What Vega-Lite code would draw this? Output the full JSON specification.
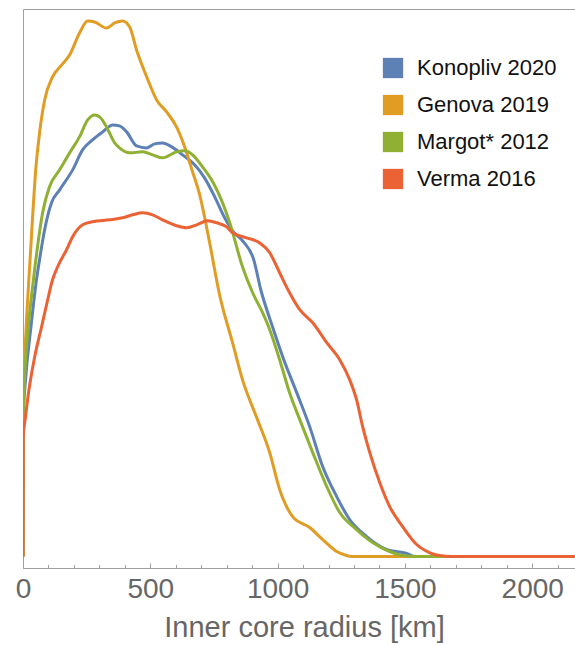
{
  "$schema": "https://vega.github.io/schema/vega-lite/v6.json",
  "width": 552,
  "height": 559,
  "autosize": {"type": "none"},
  "padding": {"left": 23, "top": 9, "right": 0, "bottom": 78},
  "background": "white",
  "config": {
    "view": {"stroke": "#a0a0a0", "strokeWidth": 1},
    "font": "Liberation Sans"
  },
  "data": {
    "values": [
      {"s": "Konopliv 2020", "x": 0, "y": 0}, {"s": "Konopliv 2020", "x": 1, "y": 140}, {"s": "Konopliv 2020", "x": 10, "y": 177}, {"s": "Konopliv 2020", "x": 30, "y": 227}, {"s": "Konopliv 2020", "x": 53, "y": 277}, {"s": "Konopliv 2020", "x": 65, "y": 297}, {"s": "Konopliv 2020", "x": 85, "y": 327}, {"s": "Konopliv 2020", "x": 112, "y": 354}, {"s": "Konopliv 2020", "x": 144, "y": 367}, {"s": "Konopliv 2020", "x": 195, "y": 387}, {"s": "Konopliv 2020", "x": 234, "y": 407}, {"s": "Konopliv 2020", "x": 273, "y": 417}, {"s": "Konopliv 2020", "x": 313, "y": 425}, {"s": "Konopliv 2020", "x": 352, "y": 432}, {"s": "Konopliv 2020", "x": 379, "y": 431}, {"s": "Konopliv 2020", "x": 407, "y": 425}, {"s": "Konopliv 2020", "x": 446, "y": 411}, {"s": "Konopliv 2020", "x": 486, "y": 409}, {"s": "Konopliv 2020", "x": 517, "y": 413}, {"s": "Konopliv 2020", "x": 548, "y": 414}, {"s": "Konopliv 2020", "x": 584, "y": 410}, {"s": "Konopliv 2020", "x": 627, "y": 402}, {"s": "Konopliv 2020", "x": 674, "y": 392}, {"s": "Konopliv 2020", "x": 713, "y": 379}, {"s": "Konopliv 2020", "x": 753, "y": 360}, {"s": "Konopliv 2020", "x": 792, "y": 339}, {"s": "Konopliv 2020", "x": 823, "y": 326}, {"s": "Konopliv 2020", "x": 866, "y": 315}, {"s": "Konopliv 2020", "x": 905, "y": 298}, {"s": "Konopliv 2020", "x": 935, "y": 266}, {"s": "Konopliv 2020", "x": 980, "y": 230}, {"s": "Konopliv 2020", "x": 1020, "y": 200}, {"s": "Konopliv 2020", "x": 1075, "y": 164}, {"s": "Konopliv 2020", "x": 1126, "y": 130}, {"s": "Konopliv 2020", "x": 1177, "y": 90}, {"s": "Konopliv 2020", "x": 1232, "y": 60}, {"s": "Konopliv 2020", "x": 1283, "y": 37}, {"s": "Konopliv 2020", "x": 1350, "y": 20}, {"s": "Konopliv 2020", "x": 1428, "y": 7}, {"s": "Konopliv 2020", "x": 1507, "y": 3}, {"s": "Konopliv 2020", "x": 1540, "y": 0}, {"s": "Konopliv 2020", "x": 2168, "y": 0},
      {"s": "Genova 2019", "x": 0, "y": 0}, {"s": "Genova 2019", "x": 1, "y": 140}, {"s": "Genova 2019", "x": 4, "y": 177}, {"s": "Genova 2019", "x": 12, "y": 227}, {"s": "Genova 2019", "x": 23, "y": 277}, {"s": "Genova 2019", "x": 37, "y": 337}, {"s": "Genova 2019", "x": 50, "y": 387}, {"s": "Genova 2019", "x": 65, "y": 424}, {"s": "Genova 2019", "x": 85, "y": 457}, {"s": "Genova 2019", "x": 116, "y": 480}, {"s": "Genova 2019", "x": 152, "y": 492}, {"s": "Genova 2019", "x": 183, "y": 502}, {"s": "Genova 2019", "x": 222, "y": 524}, {"s": "Genova 2019", "x": 254, "y": 536}, {"s": "Genova 2019", "x": 281, "y": 535}, {"s": "Genova 2019", "x": 328, "y": 529}, {"s": "Genova 2019", "x": 360, "y": 534}, {"s": "Genova 2019", "x": 391, "y": 536}, {"s": "Genova 2019", "x": 419, "y": 530}, {"s": "Genova 2019", "x": 446, "y": 507}, {"s": "Genova 2019", "x": 486, "y": 480}, {"s": "Genova 2019", "x": 525, "y": 457}, {"s": "Genova 2019", "x": 564, "y": 445}, {"s": "Genova 2019", "x": 603, "y": 430}, {"s": "Genova 2019", "x": 635, "y": 410}, {"s": "Genova 2019", "x": 666, "y": 385}, {"s": "Genova 2019", "x": 694, "y": 362}, {"s": "Genova 2019", "x": 733, "y": 314}, {"s": "Genova 2019", "x": 772, "y": 262}, {"s": "Genova 2019", "x": 823, "y": 214}, {"s": "Genova 2019", "x": 862, "y": 177}, {"s": "Genova 2019", "x": 921, "y": 137}, {"s": "Genova 2019", "x": 969, "y": 104}, {"s": "Genova 2019", "x": 1008, "y": 67}, {"s": "Genova 2019", "x": 1059, "y": 40}, {"s": "Genova 2019", "x": 1126, "y": 29}, {"s": "Genova 2019", "x": 1177, "y": 17}, {"s": "Genova 2019", "x": 1232, "y": 5}, {"s": "Genova 2019", "x": 1271, "y": 1}, {"s": "Genova 2019", "x": 1290, "y": 0}, {"s": "Genova 2019", "x": 2168, "y": 0},
      {"s": "Margot* 2012", "x": 0, "y": 0}, {"s": "Margot* 2012", "x": 1, "y": 140}, {"s": "Margot* 2012", "x": 6, "y": 177}, {"s": "Margot* 2012", "x": 20, "y": 227}, {"s": "Margot* 2012", "x": 41, "y": 277}, {"s": "Margot* 2012", "x": 57, "y": 310}, {"s": "Margot* 2012", "x": 77, "y": 344}, {"s": "Margot* 2012", "x": 104, "y": 370}, {"s": "Margot* 2012", "x": 144, "y": 387}, {"s": "Margot* 2012", "x": 183, "y": 404}, {"s": "Margot* 2012", "x": 222, "y": 420}, {"s": "Margot* 2012", "x": 254, "y": 437}, {"s": "Margot* 2012", "x": 281, "y": 442}, {"s": "Margot* 2012", "x": 301, "y": 440}, {"s": "Margot* 2012", "x": 328, "y": 430}, {"s": "Margot* 2012", "x": 360, "y": 414}, {"s": "Margot* 2012", "x": 379, "y": 409}, {"s": "Margot* 2012", "x": 419, "y": 404}, {"s": "Margot* 2012", "x": 470, "y": 405}, {"s": "Margot* 2012", "x": 509, "y": 402}, {"s": "Margot* 2012", "x": 548, "y": 399}, {"s": "Margot* 2012", "x": 603, "y": 405}, {"s": "Margot* 2012", "x": 635, "y": 406}, {"s": "Margot* 2012", "x": 666, "y": 402}, {"s": "Margot* 2012", "x": 705, "y": 390}, {"s": "Margot* 2012", "x": 745, "y": 375}, {"s": "Margot* 2012", "x": 784, "y": 354}, {"s": "Margot* 2012", "x": 812, "y": 334}, {"s": "Margot* 2012", "x": 862, "y": 290}, {"s": "Margot* 2012", "x": 902, "y": 264}, {"s": "Margot* 2012", "x": 941, "y": 244}, {"s": "Margot* 2012", "x": 969, "y": 227}, {"s": "Margot* 2012", "x": 1008, "y": 197}, {"s": "Margot* 2012", "x": 1047, "y": 164}, {"s": "Margot* 2012", "x": 1087, "y": 137}, {"s": "Margot* 2012", "x": 1138, "y": 104}, {"s": "Margot* 2012", "x": 1193, "y": 70}, {"s": "Margot* 2012", "x": 1244, "y": 44}, {"s": "Margot* 2012", "x": 1310, "y": 27}, {"s": "Margot* 2012", "x": 1373, "y": 14}, {"s": "Margot* 2012", "x": 1440, "y": 5}, {"s": "Margot* 2012", "x": 1491, "y": 1}, {"s": "Margot* 2012", "x": 1546, "y": 0}, {"s": "Margot* 2012", "x": 2168, "y": 0},
      {"s": "Verma 2016", "x": 0, "y": 0}, {"s": "Verma 2016", "x": 1, "y": 120}, {"s": "Verma 2016", "x": 10, "y": 140}, {"s": "Verma 2016", "x": 18, "y": 157}, {"s": "Verma 2016", "x": 46, "y": 200}, {"s": "Verma 2016", "x": 73, "y": 230}, {"s": "Verma 2016", "x": 97, "y": 257}, {"s": "Verma 2016", "x": 116, "y": 277}, {"s": "Verma 2016", "x": 136, "y": 290}, {"s": "Verma 2016", "x": 171, "y": 307}, {"s": "Verma 2016", "x": 195, "y": 320}, {"s": "Verma 2016", "x": 234, "y": 332}, {"s": "Verma 2016", "x": 273, "y": 335}, {"s": "Verma 2016", "x": 340, "y": 337}, {"s": "Verma 2016", "x": 391, "y": 339}, {"s": "Verma 2016", "x": 431, "y": 342}, {"s": "Verma 2016", "x": 470, "y": 344}, {"s": "Verma 2016", "x": 509, "y": 342}, {"s": "Verma 2016", "x": 548, "y": 337}, {"s": "Verma 2016", "x": 603, "y": 331}, {"s": "Verma 2016", "x": 643, "y": 329}, {"s": "Verma 2016", "x": 682, "y": 332}, {"s": "Verma 2016", "x": 725, "y": 336}, {"s": "Verma 2016", "x": 761, "y": 334}, {"s": "Verma 2016", "x": 800, "y": 330}, {"s": "Verma 2016", "x": 823, "y": 324}, {"s": "Verma 2016", "x": 878, "y": 319}, {"s": "Verma 2016", "x": 929, "y": 314}, {"s": "Verma 2016", "x": 969, "y": 304}, {"s": "Verma 2016", "x": 1008, "y": 284}, {"s": "Verma 2016", "x": 1047, "y": 264}, {"s": "Verma 2016", "x": 1087, "y": 247}, {"s": "Verma 2016", "x": 1138, "y": 234}, {"s": "Verma 2016", "x": 1193, "y": 214}, {"s": "Verma 2016", "x": 1244, "y": 197}, {"s": "Verma 2016", "x": 1283, "y": 177}, {"s": "Verma 2016", "x": 1310, "y": 157}, {"s": "Verma 2016", "x": 1334, "y": 130}, {"s": "Verma 2016", "x": 1362, "y": 104}, {"s": "Verma 2016", "x": 1401, "y": 74}, {"s": "Verma 2016", "x": 1440, "y": 50}, {"s": "Verma 2016", "x": 1491, "y": 30}, {"s": "Verma 2016", "x": 1546, "y": 12}, {"s": "Verma 2016", "x": 1596, "y": 4}, {"s": "Verma 2016", "x": 1636, "y": 1}, {"s": "Verma 2016", "x": 1687, "y": 0}, {"s": "Verma 2016", "x": 2168, "y": 0}
    ]
  },
  "encoding": {
    "x": {
      "field": "x", "type": "quantitative",
      "scale": {"domain": [0, 2168], "nice": false, "zero": false},
      "axis": {
        "title": "Inner core radius [km]",
        "values": [0, 100, 200, 300, 400, 500, 600, 700, 800, 900, 1000, 1100, 1200, 1300, 1400, 1500, 1600, 1700, 1800, 1900, 2000, 2100],
        "format": "d",
        "labelExpr": "datum.value % 500 === 0 ? datum.label : ''",
        "labelFlush": false,
        "labelOverlap": false,
        "labelBound": false,
        "grid": false,
        "domainColor": "#a0a0a0",
        "tickColor": "#a0a0a0",
        "tickSize": {"condition": {"test": "datum.value % 500 === 0", "value": -5}, "value": -3.5},
        "labelFont": "Liberation Sans",
        "labelFontSize": 28,
        "labelColor": "#666666",
        "labelPadding": 12,
        "titleFont": "Liberation Sans",
        "titleFontSize": 29,
        "titleFontWeight": "normal",
        "titleColor": "#666666",
        "titlePadding": 9,
        "titleX": 281
      }
    },
    "y": {
      "field": "y", "type": "quantitative",
      "scale": {"domain": [-11.5, 548], "nice": false, "zero": false},
      "axis": null
    },
    "color": {
      "field": "s", "type": "nominal",
      "scale": {
        "domain": ["Konopliv 2020", "Genova 2019", "Margot* 2012", "Verma 2016"],
        "range": ["#5E81B5", "#E19C24", "#8FB032", "#EB6235"]
      },
      "legend": {
        "title": null,
        "orient": "none",
        "legendX": 359,
        "legendY": 48,
        "symbolType": "square",
        "symbolSize": 400,
        "symbolStrokeWidth": 1,
        "labelFont": "Liberation Sans",
        "labelFontSize": 22,
        "labelColor": "#111111",
        "labelOffset": 13,
        "rowPadding": 13,
        "padding": 0,
        "encode": {
          "symbols": {
            "update": {
              "fill": {"scale": "color", "field": "value"},
              "fillOpacity": {"value": 1},
              "stroke": {"value": "#000000"},
              "strokeOpacity": {"value": 0.3},
              "strokeWidth": {"value": 1}
            }
          }
        }
      }
    }
  },
  "layer": [
    {"transform": [{"filter": "datum.s === 'Konopliv 2020'"}], "mark": {"type": "line", "interpolate": "monotone", "strokeWidth": 3, "clip": true}},
    {"transform": [{"filter": "datum.s === 'Genova 2019'"}], "mark": {"type": "line", "interpolate": "monotone", "strokeWidth": 3, "clip": true}},
    {"transform": [{"filter": "datum.s === 'Margot* 2012'"}], "mark": {"type": "line", "interpolate": "monotone", "strokeWidth": 3, "clip": true}},
    {"transform": [{"filter": "datum.s === 'Verma 2016'"}], "mark": {"type": "line", "interpolate": "monotone", "strokeWidth": 3, "clip": true}}
  ]
}
